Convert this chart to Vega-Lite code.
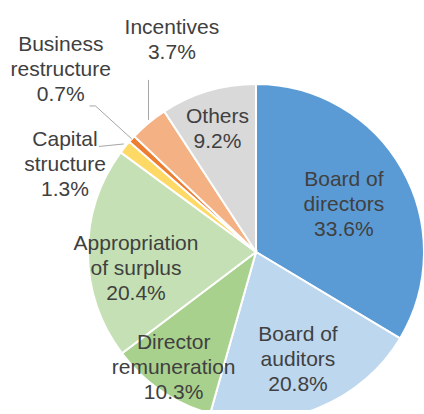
{
  "$schema": "https://vega.github.io/schema/vega-lite/v6.json",
  "width": 336,
  "height": 316,
  "autosize": "none",
  "padding": {"left": 88, "top": 94, "right": 0, "bottom": 0},
  "background": "white",
  "view": {"stroke": null},
  "config": {"text": {"font": "Liberation Sans", "fontSize": 21, "fill": "#404040", "lineHeight": 25, "lineBreak": "\n", "align": "center", "baseline": "middle"}},
  "data": {"values": [
    {"idx": 1, "name": "Board of\ndirectors", "value": 33.6},
    {"idx": 2, "name": "Board of\nauditors", "value": 20.8},
    {"idx": 3, "name": "Director\nremuneration", "value": 10.3},
    {"idx": 4, "name": "Appropriation\nof surplus", "value": 20.4},
    {"idx": 5, "name": "Capital\nstructure", "value": 1.3},
    {"idx": 6, "name": "Business\nrestructure", "value": 0.7},
    {"idx": 7, "name": "Incentives", "value": 3.7},
    {"idx": 8, "name": "Others", "value": 9.2}
  ]},
  "transform": [
    {"window": [{"op": "sum", "field": "value", "as": "cum"}], "sort": [{"field": "idx"}], "frame": [null, 0]},
    {"calculate": "datum.cum - datum.value", "as": "start"},
    {"calculate": "datum.cum - datum.value / 2", "as": "mid"},
    {"calculate": "2 * PI * datum.mid / 100", "as": "a"},
    {"calculate": "datum.name + '\\n' + format(datum.value, '.1f') + '%'", "as": "label"}
  ],
  "layer": [
    {
      "mark": {"type": "arc", "outerRadius": 168, "stroke": "white", "strokeWidth": 2},
      "encoding": {
        "theta": {"field": "start", "type": "quantitative", "stack": null, "scale": {"domain": [0, 100], "range": [0, 6.283185307179586]}},
        "theta2": {"field": "cum"},
        "color": {"field": "idx", "type": "nominal", "legend": null,
          "scale": {"domain": [1, 2, 3, 4, 5, 6, 7, 8], "range": ["#5B9BD5", "#BDD7EE", "#A9D18E", "#C5E0B4", "#FFD966", "#ED7D31", "#F4B183", "#D9D9D9"]}}
      }
    },
    {
      "transform": [{"filter": "datum.idx == 1"}],
      "mark": {"type": "text", "radius": 101, "dy": -22},
      "encoding": {"theta": {"field": "mid", "type": "quantitative", "stack": null}, "text": {"field": "label"}}
    },
    {
      "transform": [{"filter": "datum.idx == 2"}],
      "mark": {"type": "text", "radius": 114, "dy": -23},
      "encoding": {"theta": {"field": "mid", "type": "quantitative", "stack": null}, "text": {"field": "label"}}
    },
    {
      "transform": [{"filter": "datum.idx == 3"}],
      "mark": {"type": "text", "radius": 137, "dx": -5, "dy": -22},
      "encoding": {"theta": {"field": "mid", "type": "quantitative", "stack": null}, "text": {"field": "label"}}
    },
    {
      "transform": [{"filter": "datum.idx == 4"}],
      "mark": {"type": "text", "radius": 120, "dy": -9},
      "encoding": {"theta": {"field": "mid", "type": "quantitative", "stack": null}, "text": {"field": "label"}}
    },
    {
      "transform": [{"filter": "datum.idx == 5"}],
      "mark": {"type": "text", "radius": 205, "dx": -31, "dy": 16},
      "encoding": {"theta": {"field": "mid", "type": "quantitative", "stack": null}, "text": {"field": "label"}}
    },
    {
      "transform": [{"filter": "datum.idx == 6"}],
      "mark": {"type": "text", "radius": 268, "dx": 3, "dy": -27},
      "encoding": {"theta": {"field": "mid", "type": "quantitative", "stack": null}, "text": {"field": "label"}}
    },
    {
      "transform": [{"filter": "datum.idx == 7"}],
      "mark": {"type": "text", "radius": 219, "dx": 56, "dy": -56},
      "encoding": {"theta": {"field": "mid", "type": "quantitative", "stack": null}, "text": {"field": "label"}}
    },
    {
      "transform": [{"filter": "datum.idx == 8"}],
      "mark": {"type": "text", "radius": 128, "dx": -2, "dy": -12},
      "encoding": {"theta": {"field": "mid", "type": "quantitative", "stack": null}, "text": {"field": "label"}}
    },
    {
      "transform": [
        {"filter": "datum.idx == 5"},
        {"calculate": "168 * sin(datum.a) - 1", "as": "x1"},
        {"calculate": "168 * cos(datum.a) + 3", "as": "y1"},
        {"calculate": "datum.x1 - 25", "as": "x2"},
        {"calculate": "datum.y1 - 2.5", "as": "y2"}
      ],
      "mark": {"type": "rule", "stroke": "#A6A6A6", "strokeWidth": 1},
      "encoding": {
        "x": {"field": "x1", "type": "quantitative", "scale": {"domain": [-168, 168], "nice": false, "zero": false}, "axis": null},
        "y": {"field": "y1", "type": "quantitative", "scale": {"domain": [-158, 158], "nice": false, "zero": false}, "axis": null},
        "x2": {"field": "x2"},
        "y2": {"field": "y2"}
      }
    },
    {
      "transform": [
        {"filter": "datum.idx == 6"},
        {"calculate": "168 * sin(datum.a)", "as": "x1"},
        {"calculate": "168 * cos(datum.a)", "as": "y1"},
        {"calculate": "217 * sin(datum.a)", "as": "x2"},
        {"calculate": "217 * cos(datum.a)", "as": "y2"}
      ],
      "mark": {"type": "rule", "stroke": "#A6A6A6", "strokeWidth": 1},
      "encoding": {
        "x": {"field": "x1", "type": "quantitative"},
        "y": {"field": "y1", "type": "quantitative"},
        "x2": {"field": "x2"},
        "y2": {"field": "y2"}
      }
    },
    {
      "transform": [
        {"filter": "datum.idx == 6"},
        {"calculate": "217 * sin(datum.a)", "as": "x1"},
        {"calculate": "217 * cos(datum.a)", "as": "y1"},
        {"calculate": "datum.x1 - 6", "as": "x2"}
      ],
      "mark": {"type": "rule", "stroke": "#A6A6A6", "strokeWidth": 1},
      "encoding": {
        "x": {"field": "x1", "type": "quantitative"},
        "y": {"field": "y1", "type": "quantitative"},
        "x2": {"field": "x2"},
        "y2": {"field": "y1"}
      }
    },
    {
      "transform": [
        {"filter": "datum.idx == 7"},
        {"calculate": "168 * sin(datum.a)", "as": "x1"},
        {"calculate": "168 * cos(datum.a) + 3", "as": "y1"},
        {"calculate": "datum.y1 + 40", "as": "y2"}
      ],
      "mark": {"type": "rule", "stroke": "#A6A6A6", "strokeWidth": 1},
      "encoding": {
        "x": {"field": "x1", "type": "quantitative"},
        "y": {"field": "y1", "type": "quantitative"},
        "x2": {"field": "x1"},
        "y2": {"field": "y2"}
      }
    }
  ]
}
